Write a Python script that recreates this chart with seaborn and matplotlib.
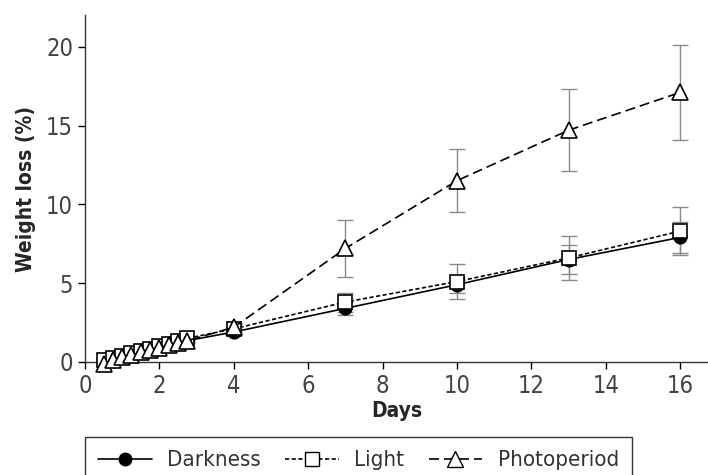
"""
Weight loss over storage days under three light regimes
"""

import numpy as np
import pandas as pd
import matplotlib
matplotlib.use("Agg")
import matplotlib.pyplot as plt
import seaborn as sns
from matplotlib.lines import Line2D

sns.set_style("ticks")
plt.rcParams["font.family"] = ["DejaVu Sans"]
plt.rcParams["font.stretch"] = "condensed"

# data
days = [0.5, 0.75, 1.0, 1.25, 1.5, 1.75, 2.0, 2.25, 2.5, 2.75, 4, 7, 10, 13, 16]
darkness = [0.0, 0.15, 0.3, 0.45, 0.6, 0.75, 0.9, 1.05, 1.2, 1.35, 1.9, 3.4, 4.9, 6.5, 7.9]
light = [0.1, 0.25, 0.4, 0.55, 0.7, 0.85, 1.0, 1.15, 1.3, 1.5, 2.1, 3.8, 5.1, 6.6, 8.3]
photoperiod = [-0.1, 0.1, 0.3, 0.45, 0.6, 0.75, 0.9, 1.05, 1.2, 1.35, 2.2, 7.2, 11.5, 14.7, 17.1]
darkness_err = [0.1] * 10 + [0.2, 0.4, 0.5, 0.9, 1.0]
light_err = [0.1] * 10 + [0.3, 0.6, 1.1, 1.4, 1.5]
photoperiod_err = [0.1] * 10 + [0.3, 1.8, 2.0, 2.6, 3.0]

series = [
    ("Darkness", darkness, darkness_err, "o", "black", "-", 9),
    ("Light", light, light_err, "s", "white", (0, (2.5, 1.5)), 10),
    ("Photoperiod", photoperiod, photoperiod_err, "^", "white", (0, (6, 3)), 11),
]

fig = plt.figure(figsize=(7.08, 4.75), dpi=100)
ax = fig.add_axes([0.12, 0.238, 0.88, 0.73])

for name, vals, errs, marker, face, ls, msize in series:
    df = pd.DataFrame({"Days": days, "Loss": vals})
    ax.errorbar(days, vals, yerr=errs, fmt="none", ecolor="#8a8a8a",
                elinewidth=1.0, capsize=5.5, capthick=1.0, zorder=1)
    sns.lineplot(data=df, x="Days", y="Loss", ax=ax, color="black",
                 linestyle=ls, linewidth=1.2, marker=marker, markersize=msize,
                 markerfacecolor=face, markeredgecolor="black",
                 markeredgewidth=1.2, clip_on=False, zorder=3)

ax.set_xlim(0, 16.75)
ax.set_ylim(0, 22)
ax.set_xticks([0, 2, 4, 6, 8, 10, 12, 14, 16])
ax.set_yticks([0, 5, 10, 15, 20])
ax.tick_params(labelsize=17, length=5, width=1, colors="black", labelcolor="#444444")
for lab in ax.get_xticklabels() + ax.get_yticklabels():
    lab.set_fontweight("light")
ax.set_xlabel("Days", fontsize=15, fontweight="bold", labelpad=2)
ax.set_ylabel("Weight loss (%)", fontsize=15, fontweight="bold", labelpad=7)
sns.despine(ax=ax)
for sp in ax.spines.values():
    sp.set_linewidth(1.0)
    sp.set_color("#333333")

handles = [
    Line2D([], [], color="black", ls=ls, lw=1.2, marker=m, markersize=s,
           markerfacecolor=f, markeredgecolor="black")
    for _, _, _, m, f, ls, s in series
]
leg = fig.legend(handles, [s[0] for s in series], loc="upper left",
                 bbox_to_anchor=(0.12, 0.08), borderaxespad=0, ncol=3,
                 fontsize=16, frameon=True, fancybox=False, edgecolor="black",
                 handlelength=2.4, handletextpad=0.7, columnspacing=1.1,
                 borderpad=0.6)
leg.get_frame().set_linewidth(1.0)
for t in leg.get_texts():
    t.set_color("#333333")

fig.savefig("out.png", dpi=100)
plt.close(fig)
